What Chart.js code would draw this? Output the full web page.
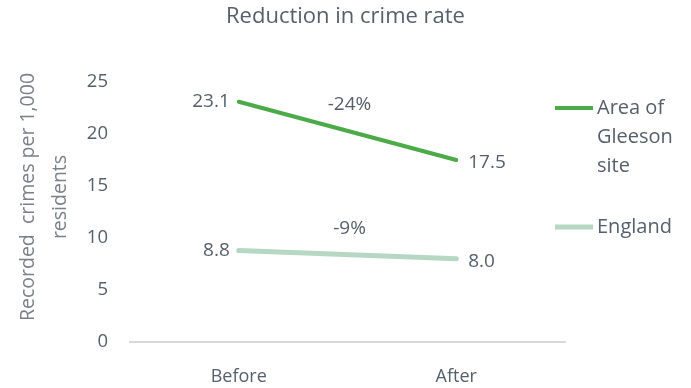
<!DOCTYPE html>
<html lang="en">
<head>
    <meta charset="UTF-8">
    <title>Reduction in crime rate</title>
    <script src="https://cdn.jsdelivr.net/npm/chart.js"></script>
    <style>
        body {
            margin: 0;
            padding: 0;
            background: #fff;
        }
        #wrap {
            width: 691px;
            height: 388px;
        }
    </style>
</head>
<body>
    <div id="wrap">
        <canvas id="chart"></canvas>
    </div>

    <script>
        const categories = ['Before', 'After'];
        const seriesNames = [['Area of', 'Gleeson', 'site'], ['England']];
        const gleeson = [23.1, 17.5];
        const england = [8.8, 8.0];
        const changeLabels = ['-24%', '-9%'];
        const yTicks = [0, 5, 10, 15, 20, 25];
        const yTitle = ['Recorded  crimes per 1,000', 'residents'];

        const textColor = '#56606b';
        const fontFamily = "'Open Sans', 'DejaVu Sans', sans-serif";
        const lineColors = ['#4caa48', '#b5d7c3'];

        // chart title centred on the canvas, y title a bit above the plot centre
        const titlePlugin = {
            id: 'pageTitle',
            afterDraw(chart) {
                const ctx = chart.ctx;
                ctx.save();
                ctx.font = '22px ' + fontFamily;
                ctx.fillStyle = textColor;
                ctx.textAlign = 'center';
                ctx.textBaseline = 'middle';
                ctx.fillText('Reduction in crime rate', chart.width / 2, 17);

                ctx.font = '19.5px ' + fontFamily;
                ctx.fillStyle = '#7a8089';
                ctx.translate(28, 197);
                ctx.rotate(-Math.PI / 2);
                yTitle.forEach((t, i) => ctx.fillText(t, 0, i * 32));
                ctx.restore();
            }
        };

        // value labels beside the points + the % change above each line
        const labelsPlugin = {
            id: 'labels',
            afterDatasetsDraw(chart) {
                const ctx = chart.ctx;
                ctx.save();
                ctx.font = '19px ' + fontFamily;
                ctx.fillStyle = textColor;
                ctx.textBaseline = 'middle';
                chart.data.datasets.forEach((ds, i) => {
                    const pts = chart.getDatasetMeta(i).data;
                    ctx.textAlign = 'right';
                    ctx.fillText(ds.data[0].toFixed(1), pts[0].x - 9, pts[0].y);
                    ctx.textAlign = 'left';
                    ctx.fillText(ds.data[1].toFixed(1), pts[1].x + 12, pts[1].y + 3);
                    ctx.textAlign = 'center';
                    const mx = (pts[0].x + pts[1].x) / 2;
                    const my = (pts[0].y + pts[1].y) / 2;
                    ctx.fillText(changeLabels[i], mx + 2, my - 26);
                });
                ctx.restore();
            }
        };

        // legend on the right with wrapped names
        const legendPlugin = {
            id: 'sideLegend',
            afterDraw(chart) {
                const ctx = chart.ctx;
                const x = chart.chartArea.right - 10;
                let y = 108;
                ctx.save();
                ctx.font = '20px ' + fontFamily;
                ctx.fillStyle = textColor;
                ctx.textBaseline = 'middle';
                ctx.textAlign = 'left';
                chart.data.datasets.forEach((ds, i) => {
                    ctx.strokeStyle = ds.borderColor;
                    ctx.lineWidth = ds.borderWidth;
                    ctx.beginPath();
                    ctx.moveTo(x, y);
                    ctx.lineTo(x + 38, y);
                    ctx.stroke();
                    seriesNames[i].forEach((t, j) => {
                        ctx.fillText(t, x + 42, y + j * 29);
                    });
                    y += seriesNames[i].length * 29 + 32;
                });
                ctx.restore();
            }
        };

        new Chart(document.getElementById('chart'), {
            type: 'line',
            data: {
                labels: categories,
                datasets: [{
                    label: seriesNames[0].join(' '),
                    data: gleeson,
                    borderColor: lineColors[0],
                    borderWidth: 4,
                    pointRadius: 0,
                    borderCapStyle: 'round'
                }, {
                    label: seriesNames[1].join(' '),
                    data: england,
                    borderColor: lineColors[1],
                    borderWidth: 5,
                    pointRadius: 0,
                    borderCapStyle: 'round'
                }]
            },
            options: {
                responsive: true,
                maintainAspectRatio: false,
                animation: false,
                layout: {
                    padding: { left: 0, right: 126, top: 82, bottom: 0 }
                },
                plugins: {
                    legend: { display: false },
                    tooltip: { enabled: false },
                    title: { display: false }
                },
                scales: {
                    x: {
                        offset: true,
                        grid: { display: false },
                        border: { display: true, color: '#d9d9d9', width: 2 },
                        ticks: {
                            color: textColor,
                            font: { family: fontFamily, size: 18 },
                            padding: 16
                        },
                        afterFit(scale) { scale.height = 46; }
                    },
                    y: {
                        min: 0,
                        max: 25,
                        afterBuildTicks(scale) {
                            scale.ticks = yTicks.map(v => ({ value: v }));
                        },
                        grid: { display: false },
                        border: { display: false },
                        ticks: {
                            color: textColor,
                            font: { family: fontFamily, size: 18.5 },
                            padding: 14
                        },
                        afterFit(scale) { scale.width = 130; }
                    }
                }
            },
            plugins: [titlePlugin, labelsPlugin, legendPlugin]
        });
    </script>
</body>
</html>
